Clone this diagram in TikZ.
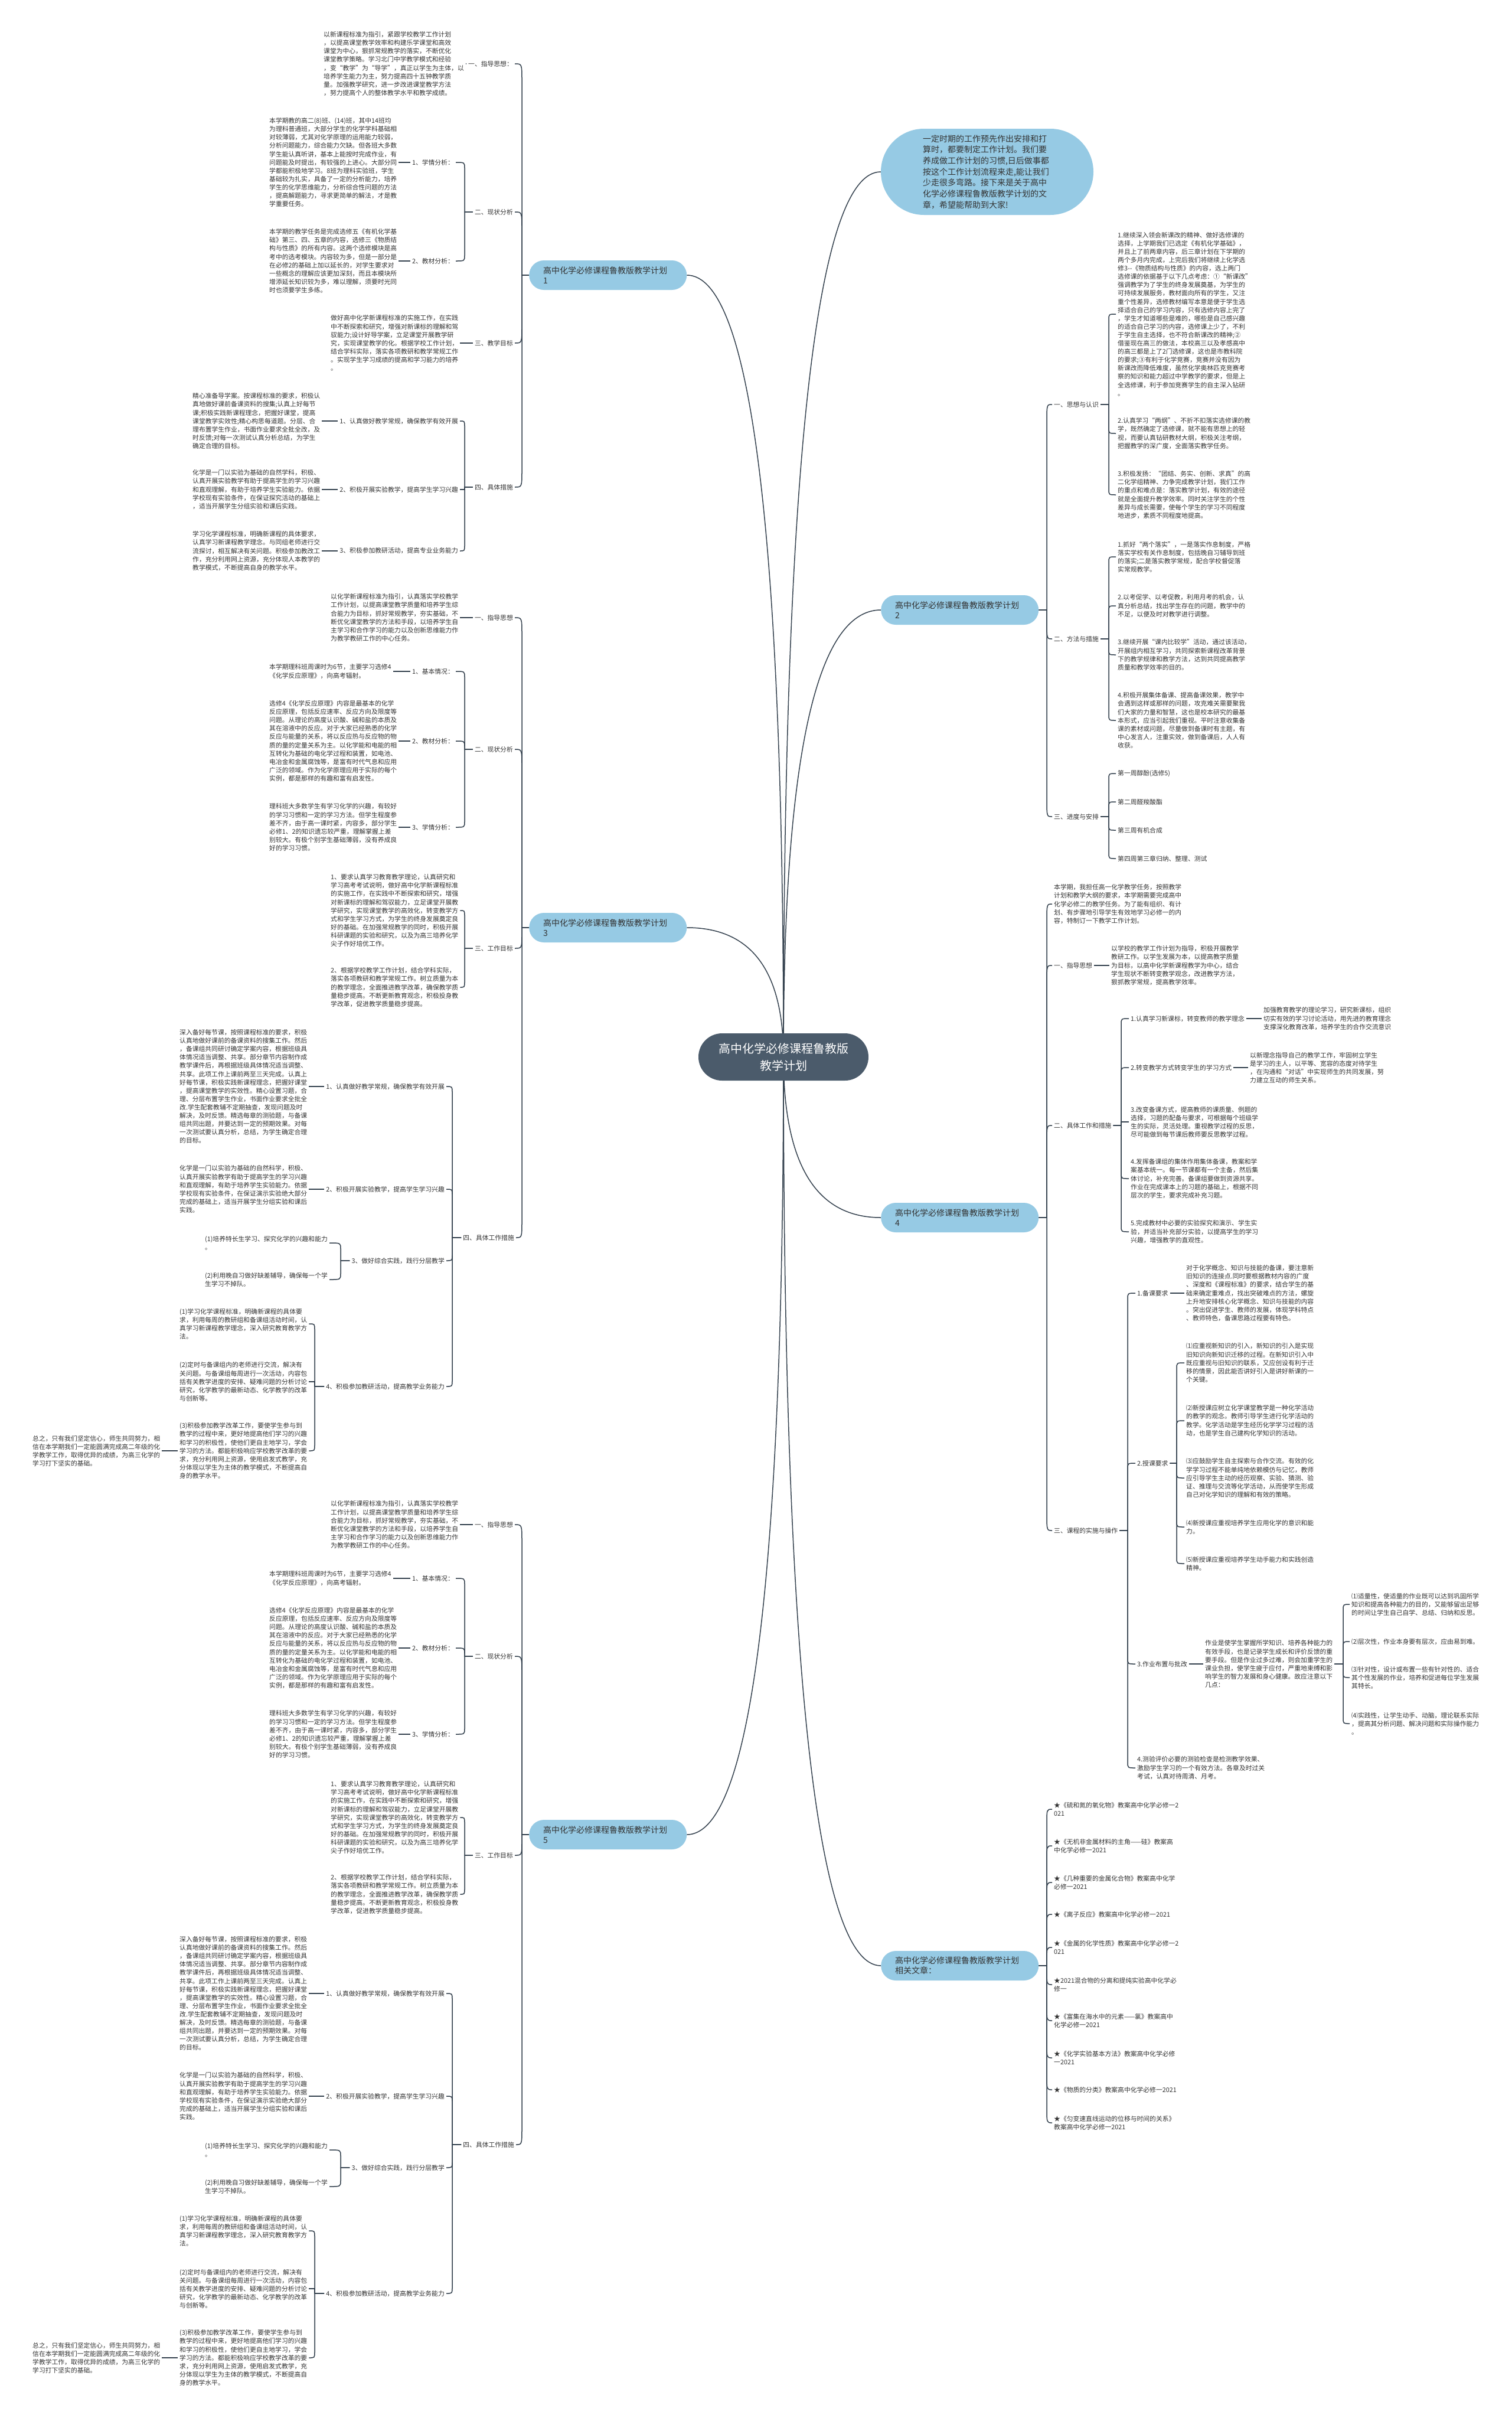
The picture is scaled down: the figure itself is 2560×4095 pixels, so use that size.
\documentclass[tikz,border=0pt]{standalone}
\usepackage{fontspec}
\setmainfont{Noto Sans CJK SC}
\usetikzlibrary{calc}
\definecolor{connc}{HTML}{34414E}
\definecolor{txtc}{HTML}{333333}
\definecolor{bluec}{HTML}{96CAE4}
\definecolor{rootc}{HTML}{4B5B6B}
\pgfdeclarelayer{lines}
\pgfsetlayers{lines,main}
\tikzset{
  conn/.style={draw=connc, line width=1.5pt},
  tx/.style={font={\fontsize{10.8}{14.1}\selectfont}, text=txtc, align=left, inner xsep=3pt, inner ysep=1pt},
  bnode/.style={fill=bluec, rounded corners=25pt, text width=219pt, align=left, inner xsep=24pt, inner ysep=0pt, minimum height=50pt, font={\fontsize{14}{17}\selectfont}, text=txtc},
  rootn/.style={fill=rootc, rounded corners=40pt, minimum width=288pt, minimum height=80pt, align=center, text=white, font={\fontsize{20}{29}\selectfont}},
  intron/.style={fill=bluec, rounded corners=73pt, text width=218pt, align=left, inner xsep=71pt, minimum height=146pt, font={\fontsize{14}{18.7}\selectfont}, text=txtc}
}
\newcommand\treeconn[4]{\draw[conn] (#1) -- (#1 -| #3) -- ($(#2 -| #3)!#4!(#1 -| #3)$) .. controls (#2 -| #3) .. (#2);}
\newcommand\elbowconn[3]{\draw[conn] (#1) -- (#1 -| #3) |- (#2);}
\newcommand\straightconn[2]{\draw[conn] (#1) -- (#1 -| #2);}
\newcommand\rootconn[1]{\draw[conn] (root.center) .. controls ($(root.center)!0.6667!(root.center |- #1)$) and ($(#1)!0.6667!(root.center |- #1)$) .. (#1);}

\newcommand\planbranchnodes[2]{%
\node[bnode,anchor=west] (#1) at (896,1571) {高中化学必修课程鲁教版教学计划\\#2};
\coordinate (#1s) at (884,0);
\node[tx,anchor=east] (#1a) at (872,1046) {一、指导思想};
\node[tx,anchor=west] (#1aL) at (557,1046) {以化学新课程标准为指引，认真落实学校教学\\
工作计划，以提高课堂教学质量和培养学生综\\
合能力为目标，抓好常规教学，夯实基础，不\\
断优化课堂教学的方法和手段，以培养学生自\\
主学习和合作学习的能力以及创新思维能力作\\
为教学教研工作的中心任务。};
\node[tx,anchor=east] (#1b) at (872,1269) {二、现状分析};
\coordinate (#1bs) at (787,0);
\node[tx,anchor=east] (#1b1) at (772,1137) {1、基本情况：};
\node[tx,anchor=west] (#1b1L) at (453,1137) {本学期理科班周课时为6节，主要学习选修4\\
《化学反应原理》，向高考辐射。};
\node[tx,anchor=east] (#1b2) at (772,1255) {2、教材分析：};
\node[tx,anchor=west] (#1b2L) at (453,1255) {选修4《化学反应原理》内容是最基本的化学\\
反应原理，包括反应速率、反应方向及限度等\\
问题。从理论的高度认识酸、碱和盐的本质及\\
其在溶液中的反应。对于大家已经熟悉的化学\\
反应与能量的关系，将以反应热与反应物的物\\
质的量的定量关系为主。以化学能和电能的相\\
互转化为基础的电化学过程和装置，如电池、\\
电冶金和金属腐蚀等，是富有时代气息和应用\\
广泛的领域。作为化学原理应用于实际的每个\\
实例，都是那样的有趣和富有启发性。};
\node[tx,anchor=east] (#1b3) at (772,1401) {3、学情分析：};
\node[tx,anchor=west] (#1b3L) at (453,1401) {理科班大多数学生有学习化学的兴趣，有较好\\
的学习习惯和一定的学习方法。但学生程度参\\
差不齐，由于高一课时紧，内容多，部分学生\\
必修1、2的知识遗忘较严重，理解掌握上差\\
别较大。有极个别学生基础薄弱，没有养成良\\
好的学习习惯。};
\node[tx,anchor=east] (#1c) at (872,1606) {三、工作目标};
\coordinate (#1cs) at (787,0);
\node[tx,anchor=west] (#1c1) at (557,1542) {1、要求认真学习教育教学理论，认真研究和\\
学习高考考试说明，做好高中化学新课程标准\\
的实施工作，在实践中不断探索和研究，增强\\
对新课标的理解和驾驭能力，立足课堂开展教\\
学研究，实现课堂教学的高效化，转变教学方\\
式和学生学习方式，为学生的终身发展奠定良\\
好的基础。在加强常规教学的同时，积极开展\\
科研课题的实验和研究，以及为高三培养化学\\
尖子作好培优工作。};
\node[tx,anchor=west] (#1c2) at (557,1672) {2、根据学校教学工作计划，结合学科实际，\\
落实各项教研和教学常规工作。树立质量为本\\
的教学理念，全面推进教学改革，确保教学质\\
量稳步提高。不断更新教育观念，积极投身教\\
学改革，促进教学质量稳步提高。};
\node[tx,anchor=east] (#1d) at (874,2096) {四、具体工作措施};
\coordinate (#1ds) at (766,0);
\node[tx,anchor=east] (#1d1) at (756,1840) {1、认真做好教学常规，确保教学有效开展};
\node[tx,anchor=west] (#1d1L) at (301,1840) {深入备好每节课，按照课程标准的要求，积极\\
认真地做好课前的备课资料的搜集工作。然后\\
，备课组共同研讨确定学案内容，根据班级具\\
体情况适当调整、共享。部分章节内容制作成\\
教学课件后，再根据班级具体情况适当调整、\\
共享。此项工作上课前两至三天完成。认真上\\
好每节课，积极实践新课程理念，把握好课堂\\
，提高课堂教学的实效性。精心设置习题，合\\
理、分层布置学生作业，书面作业要求全批全\\
改.学生配套教辅不定期抽查，发现问题及时\\
解决，及时反馈。精选每章的测验题，与备课\\
组共同出题，并要达到一定的预期效果。对每\\
一次测试要认真分析，总结，为学生确定合理\\
的目标。};
\node[tx,anchor=east] (#1d2) at (756,2014) {2、积极开展实验教学，提高学生学习兴趣};
\node[tx,anchor=west] (#1d2L) at (301,2014) {化学是一门以实验为基础的自然科学，积极、\\
认真开展实验教学有助于提高学生的学习兴趣\\
和直观理解，有助于培养学生实验能力。依据\\
学校现有实验条件，在保证演示实验绝大部分\\
完成的基础上，适当开展学生分组实验和课后\\
实践。};
\node[tx,anchor=east] (#1d3) at (756,2135) {3、做好综合实践，践行分层教学};
\coordinate (#1d3s) at (577,0);
\node[tx,anchor=west] (#1d31) at (344,2105) {(1)培养特长生学习、探究化学的兴趣和能力\\
。};
\node[tx,anchor=west] (#1d32) at (344,2167) {(2)利用晚自习做好缺差辅导，确保每一个学\\
生学习不掉队。};
\node[tx,anchor=east] (#1d4) at (756,2348) {4、积极参加教研活动，提高教学业务能力};
\coordinate (#1d4s) at (533,0);
\node[tx,anchor=west] (#1d41) at (301,2242) {(1)学习化学课程标准，明确新课程的具体要\\
求，利用每周的教研组和备课组活动时间，认\\
真学习新课程教学理念，深入研究教育教学方\\
法。};
\node[tx,anchor=west] (#1d42) at (301,2340) {(2)定时与备课组内的老师进行交流，解决有\\
关问题。与备课组每周进行一次活动，内容包\\
括有关教学进度的安排、疑难问题的分析讨论\\
研究，化学教学的最新动态、化学教学的改革\\
与创新等。};
\node[tx,anchor=west] (#1d43) at (301,2457) {(3)积极参加教学改革工作，要使学生参与到\\
教学的过程中来，更好地提高他们学习的兴趣\\
和学习的积极性，使他们更自主地学习，学会\\
学习的方法。都能积极响应学校教学改革的要\\
求，充分利用网上资源，使用启发式教学，充\\
分体现以学生为主体的教学模式，不断提高自\\
身的教学水平。};
\node[tx,anchor=west] (#1z) at (52,2457) {总之，只有我们坚定信心，师生共同努力，相\\
信在本学期我们一定能圆满完成高二年级的化\\
学教学工作，取得优异的成绩，为高三化学的\\
学习打下坚实的基础。};
}

\newcommand\planbranchconns[1]{%
\treeconn{#1.west}{#1a.east}{#1s}{30pt}
\treeconn{#1.west}{#1b.east}{#1s}{30pt}
\treeconn{#1.west}{#1c.east}{#1s}{25pt}
\treeconn{#1.west}{#1d.east}{#1s}{30pt}
\straightconn{#1a.west}{#1aL.east}
\treeconn{#1b.west}{#1b1.east}{#1bs}{10pt}
\treeconn{#1b.west}{#1b2.east}{#1bs}{10pt}
\treeconn{#1b.west}{#1b3.east}{#1bs}{10pt}
\straightconn{#1b1.west}{#1b1L.east}
\straightconn{#1b2.west}{#1b2L.east}
\straightconn{#1b3.west}{#1b3L.east}
\treeconn{#1c.west}{#1c1.east}{#1cs}{10pt}
\treeconn{#1c.west}{#1c2.east}{#1cs}{10pt}
\treeconn{#1d.west}{#1d1.east}{#1ds}{10pt}
\treeconn{#1d.west}{#1d2.east}{#1ds}{10pt}
\treeconn{#1d.west}{#1d3.east}{#1ds}{10pt}
\treeconn{#1d.west}{#1d4.east}{#1ds}{10pt}
\straightconn{#1d1.west}{#1d1L.east}
\straightconn{#1d2.west}{#1d2L.east}
\treeconn{#1d3.west}{#1d31.east}{#1d3s}{10pt}
\treeconn{#1d3.west}{#1d32.east}{#1d3s}{10pt}
\treeconn{#1d4.west}{#1d41.east}{#1d4s}{10pt}
\elbowconn{#1d4.west}{#1d42.east}{#1d4s}
\treeconn{#1d4.west}{#1d43.east}{#1d4s}{10pt}
\straightconn{#1d43.west}{#1z.east}
}

\begin{document}
\begin{tikzpicture}[x=1pt,y=-1pt]
\useasboundingbox (0,0) rectangle (2560,4095);
\begin{pgfonlayer}{lines}
\fill[white] (0,0) rectangle (2560,4095);
\end{pgfonlayer}

% root
\node[rootn] (root) at (1327,1790) {高中化学必修课程鲁教版\\教学计划};

% intro
\node[intron] (intro) at (1672,291) {一定时期的工作预先作出安排和打\\
算时，都要制定工作计划。我们要\\
养成做工作计划的习惯,日后做事都\\
按这个工作计划流程来走,能让我们\\
少走很多弯路。接下来是关于高中\\
化学必修课程鲁教版教学计划的文\\
章，希望能帮助到大家!};

% ---------- branch 1 ----------
\node[bnode,anchor=west] (b1) at (896,466) {高中化学必修课程鲁教版教学计划\\1};
\coordinate (b1s) at (884,0);
\node[tx,anchor=east] (b1a) at (872,108) {一、指导思想：};
\node[tx,anchor=west] (b1aL) at (545,108) {以新课程标准为指引，紧跟学校教学工作计划\\
，以提高课堂教学效率和构建乐学课堂和高效\\
课堂为中心，狠抓常规教学的落实，不断优化\\
课堂教学策略。学习北门中学教学模式和经验\\
，变“教学”为“导学”，真正以学生为主体，以\\
培养学生能力为主，努力提高四十五钟教学质\\
量。加强教学研究，进一步改进课堂教学方法\\
，努力提高个人的整体教学水平和教学成绩。};
\node[tx,anchor=east] (b1b) at (872,359) {二、现状分析};
\coordinate (b1bs) at (787,0);
\node[tx,anchor=east] (b1b1) at (772,275) {1、学情分析：};
\node[tx,anchor=west] (b1b1L) at (453,275) {本学期教的高二(8)班、(14)班，其中14班均\\
为理科普通班，大部分学生的化学学科基础相\\
对较薄弱，尤其对化学原理的运用能力较弱，\\
分析问题能力，综合能力欠缺。但各班大多数\\
学生能认真听讲，基本上能按时完成作业，有\\
问题能及时提出，有较强的上进心。大部分同\\
学都能积极地学习。8班为理科实验班，学生\\
基础较为扎实，具备了一定的分析能力，培养\\
学生的化学思维能力，分析综合性问题的方法\\
，提高解题能力，寻求更简单的解法，才是教\\
学重要任务。};
\node[tx,anchor=east] (b1b2) at (772,442) {2、教材分析：};
\node[tx,anchor=west] (b1b2L) at (453,442) {本学期的教学任务是完成选修五《有机化学基\\
础》第三、四、五章的内容，选修三《物质结\\
构与性质》的所有内容。这两个选修模块是高\\
考中的选考模块。内容较为多，但是一部分是\\
在必修2的基础上加以延长的，对学生要求对\\
一些概念的理解应该更加深刻，而且本模块所\\
增添延长知识较为多，难以理解，须要时光同\\
时也须要学生多练。};
\node[tx,anchor=east] (b1c) at (872,581) {三、教学目标};
\node[tx,anchor=west] (b1cL) at (557,581) {做好高中化学新课程标准的实施工作，在实践\\
中不断探索和研究，增强对新课标的理解和驾\\
驭能力;设计好导学案，立足课堂开展教学研\\
究，实现课堂教学的化。根据学校工作计划，\\
结合学科实际，落实各项教研和教学常规工作\\
。实现学生学习成绩的提高和学习能力的培养\\
。};
\node[tx,anchor=east] (b1d) at (872,825) {四、具体措施};
\coordinate (b1ds) at (787,0);
\node[tx,anchor=east] (b1d1) at (779,713) {1、认真做好教学常规，确保教学有效开展};
\node[tx,anchor=west] (b1d1L) at (323,713) {精心准备导学案。按课程标准的要求，积极认\\
真地做好课前备课资料的搜集;认真上好每节\\
课;积极实践新课程理念，把握好课堂，提高\\
课堂教学实效性;精心构思每道题。分层、合\\
理布置学生作业，书面作业要求全批全改，及\\
时反馈;对每一次测试认真分析总结，为学生\\
确定合理的目标。};
\node[tx,anchor=east] (b1d2) at (779,829) {2、积极开展实验教学，提高学生学习兴趣};
\node[tx,anchor=west] (b1d2L) at (323,829) {化学是一门以实验为基础的自然学科，积极、\\
认真开展实验教学有助于提高学生的学习兴趣\\
和直观理解，有助于培养学生实验能力。依据\\
学校现有实验条件，在保证探究活动的基础上\\
，适当开展学生分组实验和课后实践。};
\node[tx,anchor=east] (b1d3) at (779,933) {3、积极参加教研活动，提高专业业务能力};
\node[tx,anchor=west] (b1d3L) at (323,933) {学习化学课程标准，明确新课程的具体要求，\\
认真学习新课程教学理念。与同组老师进行交\\
流探讨，相互解决有关问题。积极参加教改工\\
作，充分利用网上资源，充分体现人本教学的\\
教学模式，不断提高自身的教学水平。};

% ---------- branches 3 and 5 ----------
\begin{scope}
\planbranchnodes{b3}{3}
\end{scope}
\begin{scope}[yshift=-1536pt]
\planbranchnodes{b5}{5}
\end{scope}

% ---------- branch 2 ----------
\node[bnode,anchor=west] (b2) at (1492,1033) {高中化学必修课程鲁教版教学计划\\2};
\coordinate (b2s) at (1773,0);
\node[tx,anchor=west] (b2a) at (1782,685) {一、思想与认识};
\coordinate (b2as) at (1878,0);
\node[tx,anchor=west] (b2a1) at (1890,532) {1.继续深入领会新课改的精神、做好选修课的\\
选择，上学期我们已选定《有机化学基础》，\\
并且上了前两章内容，后三章计划在下学期的\\
两个多月内完成，上完后我们将继续上化学选\\
修3-{}-《物质结构与性质》的内容，选上两门\\
选修课的依据基于以下几点考虑：①“新课改”\\
强调教学为了学生的终身发展奠基，为学生的\\
可持续发展服务，教材面向所有的学生，又注\\
重个性差异，选修教材编写本意是便于学生选\\
择适合自己的学习内容，只有选修内容上完了\\
，学生才知道哪些是难的，哪些是自己感兴趣\\
的适合自己学习的内容，选修课上少了，不利\\
于学生自主选择，也不符合新课改的精神;②\\
借鉴现在高三的做法，本校高三以及孝感高中\\
的高三都是上了2门选修课，这也是市教科院\\
的要求;③有利于化学竞赛，竞赛并没有因为\\
新课改而降低难度，虽然化学奥林匹克竞赛考\\
察的知识和能力超过中学教学的要求，但是上\\
全选修课，利于参加竞赛学生的自主深入钻研\\
。};
\node[tx,anchor=west] (b2a2) at (1890,734) {2.认真学习“两纲”、不折不扣落实选修课的教\\
学，既然确定了选修课，就不能有思想上的轻\\
视，而要认真钻研教材大纲，积极关注考纲，\\
把握教学的深广度，全面落实教学任务。};
\node[tx,anchor=west] (b2a3) at (1890,838) {3.积极发扬：“团结、务实、创新、求真”的高\\
二化学组精神、力争完成教学计划，我们工作\\
的重点和难点是：落实教学计划，有效的途径\\
就是全面提升教学效率。同时关注学生的个性\\
差异与成长需要，使每个学生的学习不同程度\\
地进步，素质不同程度地提高。};
\node[tx,anchor=west] (b2b) at (1782,1082) {二、方法与措施};
\coordinate (b2bs) at (1878,0);
\node[tx,anchor=west] (b2b1) at (1890,943) {1.抓好“两个落实”，一是落实作息制度，严格\\
落实学校有关作息制度，包括晚自习辅导到班\\
的落实;二是落实教学常规，配合学校督促落\\
实常规教学。};
\node[tx,anchor=west] (b2b2) at (1890,1026) {2.以考促学、以考促教，利用月考的机会，认\\
真分析总结，找出学生存在的问题，教学中的\\
不足，以便及时对教学进行调整。};
\node[tx,anchor=west] (b2b3) at (1890,1109) {3.继续开展“课内比较学”活动，通过该活动，\\
开展组内相互学习，共同探索新课程改革背景\\
下的教学规律和教学方法，达到共同提高教学\\
质量和教学效率的目的。};
\node[tx,anchor=west] (b2b4) at (1890,1220) {4.积极开展集体备课、提高备课效果，教学中\\
会遇到这样或那样的问题，攻克难关需要聚我\\
们大家的力量和智慧，这也是校本研究的最基\\
本形式，应当引起我们重视。平时注意收集备\\
课的素材或问题，尽量做到备课时有主题，有\\
中心发言人，注重实效，做到备课后，人人有\\
收获。};
\node[tx,anchor=west] (b2c) at (1782,1383) {三、进度与安排};
\coordinate (b2cs) at (1878,0);
\node[tx,anchor=west] (b2c1) at (1890,1310) {第一周醇酚(选修5)};
\node[tx,anchor=west] (b2c2) at (1890,1358) {第二周醛羧酸酯};
\node[tx,anchor=west] (b2c3) at (1890,1406) {第三周有机合成};
\node[tx,anchor=west] (b2c4) at (1890,1454) {第四周第三章归纳、整理、测试};

% ---------- branch 4 ----------
\node[bnode,anchor=west] (b4) at (1492,2062) {高中化学必修课程鲁教版教学计划\\4};
\coordinate (b4s) at (1773,0);
\node[tx,anchor=west] (b4i) at (1782,1531) {本学期，我担任高一化学教学任务，按照教学\\
计划和教学大纲的要求，本学期需要完成高中\\
化学必修二的教学任务。为了能有组织、有计\\
划、有步骤地引导学生有效地学习必修一的内\\
容，特制订一下教学工作计划。};
\node[tx,anchor=west] (b4a) at (1782,1635) {一、指导思想};
\node[tx,anchor=west] (b4aL) at (1879,1635) {以学校的教学工作计划为指导，积极开展教学\\
教研工作。以学生发展为本，以提高教学质量\\
为目标，以高中化学新课程教学为中心，结合\\
学生现状不断转变教学观念，改进教学方法，\\
狠抓教学常规，提高教学效率。};
\node[tx,anchor=west] (b4b) at (1782,1906) {二、具体工作和措施};
\coordinate (b4bs) at (1899,0);
\node[tx,anchor=west] (b4b1) at (1912,1725) {1.认真学习新课标，转变教师的教学理念};
\node[tx,anchor=west] (b4b1L) at (2137,1725) {加强教育教学的理论学习，研究新课标，组织\\
切实有效的学习讨论活动，用先进的教育理念\\
支撑深化教育改革，培养学生的合作交流意识};
\node[tx,anchor=west] (b4b2) at (1912,1808) {2.转变教学方式转变学生的学习方式};
\node[tx,anchor=west] (b4b2L) at (2114,1808) {以新理念指导自己的教学工作，牢固树立学生\\
是学习的主人，以平等、宽容的态度对待学生\\
，在沟通和“对话”中实现师生的共同发展，努\\
力建立互动的师生关系。};
\node[tx,anchor=west] (b4b3) at (1912,1900) {3.改变备课方式，提高教师的课质量、例题的\\
选择，习题的配备与要求，可根据每个班级学\\
生的实际，灵活处理。重视教学过程的反思，\\
尽可能做到每节课后教师要反思教学过程。};
\node[tx,anchor=west] (b4b4) at (1912,1996) {4.发挥备课组的集体作用集体备课，教案和学\\
案基本统一。每一节课都有一个主备，然后集\\
体讨论，补充完善。备课组要做到资源共享。\\
作业在完成课本上的习题的基础上，根据不同\\
层次的学生，要求完成补充习题。};
\node[tx,anchor=west] (b4b5) at (1912,2086) {5.完成教材中必要的实验探究和演示、学生实\\
验，并适当补充部分实验，以提高学生的学习\\
兴趣，增强教学的直观性。};
\node[tx,anchor=west] (b4c) at (1782,2592) {三、课程的实施与操作};
\coordinate (b4cs) at (1910,0);
\node[tx,anchor=west] (b4c1) at (1923,2190) {1.备课要求};
\node[tx,anchor=west] (b4c1L) at (2006,2190) {对于化学概念、知识与技能的备课，要注意新\\
旧知识的连接点.同时要根据教材内容的广度\\
、深度和《课程标准》的要求，结合学生的基\\
础来确定重难点，找出突破难点的方法，螺旋\\
上升地安排核心化学概念、知识与技能的内容\\
。突出促进学生、教师的发展，体现学科特点\\
、教师特色，备课思路过程要有特色。};
\node[tx,anchor=west] (b4c2) at (1923,2478) {2.授课要求};
\coordinate (b4c2s) at (1993,0);
\node[tx,anchor=west] (b4c21) at (2006,2308) {⑴应重视新知识的引入，新知识的引入是实现\\
旧知识向新知识迁移的过程。在新知识引入中\\
既应重视与旧知识的联系，又应创设有利于迁\\
移的情景，因此能否讲好引入是讲好新课的一\\
个关键。};
\node[tx,anchor=west] (b4c22) at (2006,2406) {⑵新授课应树立化学课堂教学是一种化学活动\\
的教学的观念。教师引导学生进行化学活动的\\
教学。化学活动是学生经历化学学习过程的活\\
动，也是学生自己建构化学知识的活动。};
\node[tx,anchor=west] (b4c23) at (2006,2503) {⑶应鼓励学生自主探索与合作交流。有效的化\\
学学习过程不能单纯地依赖模仿与记忆，教师\\
应引导学生主动的经历观察、实验、猜测、验\\
证、推理与交流等化学活动，从而使学生形成\\
自己对化学知识的理解和有效的策略。};
\node[tx,anchor=west] (b4c24) at (2006,2586) {⑷新授课应重视培养学生应用化学的意识和能\\
力。};
\node[tx,anchor=west] (b4c25) at (2006,2648) {⑸新授课应重视培养学生动手能力和实践创造\\
精神。};
\node[tx,anchor=west] (b4c3) at (1923,2818) {3.作业布置与批改};
\node[tx,anchor=west] (b4c3L) at (2038,2818) {作业是使学生掌握所学知识、培养各种能力的\\
有效手段，也是记录学生成长和评价反馈的重\\
要手段。但是作业过多过难，则会加重学生的\\
课业负担，使学生疲于应付，严重地束缚和影\\
响学生的智力发展和身心健康。故应注意以下\\
几点：};
\coordinate (b4c3s) at (2275,0);
\node[tx,anchor=west] (b4c31) at (2286,2717) {⑴适量性，使适量的作业既可以达到巩固所学\\
知识和提高各种能力的目的，又能够留出足够\\
的时间让学生自己自学、总结、归纳和反思。};
\node[tx,anchor=west] (b4c32) at (2286,2780) {⑵层次性，作业本身要有层次，应由易到难。};
\node[tx,anchor=west] (b4c33) at (2286,2841) {⑶针对性，设计或布置一些有针对性的、适合\\
其个性发展的作业，培养和促进每位学生发展\\
其特长。};
\node[tx,anchor=west] (b4c34) at (2286,2919) {⑷实践性，让学生动手、动脑，理论联系实际\\
，提高其分析问题、解决问题和实际操作能力\\
。};
\node[tx,anchor=west] (b4c4) at (1923,2994) {4.测验评价必要的测验检查是检测教学效果、\\
激励学生学习的一个有效方法。各章及时过关\\
考试，认真对待周清、月考。};

% ---------- branch 6: related ----------
\node[bnode,anchor=west] (b6) at (1492,3329) {高中化学必修课程鲁教版教学计划\\相关文章：};
\coordinate (b6s) at (1773,0);
\node[tx,anchor=west] (r1) at (1782,3064) {★《硫和氮的氧化物》教案高中化学必修一2\\021};
\node[tx,anchor=west] (r2) at (1782,3126) {★《无机非金属材料的主角——硅》教案高\\中化学必修一2021};
\node[tx,anchor=west] (r3) at (1782,3188) {★《几种重要的金属化合物》教案高中化学\\必修一2021};
\node[tx,anchor=west] (r4) at (1782,3242) {★《离子反应》教案高中化学必修一2021};
\node[tx,anchor=west] (r5) at (1782,3298) {★《金属的化学性质》教案高中化学必修一2\\021};
\node[tx,anchor=west] (r6) at (1782,3361) {★2021混合物的分离和提纯实验高中化学必\\修一};
\node[tx,anchor=west] (r7) at (1782,3422) {★《富集在海水中的元素——氯》教案高中\\化学必修一2021};
\node[tx,anchor=west] (r8) at (1782,3485) {★《化学实验基本方法》教案高中化学必修\\一2021};
\node[tx,anchor=west] (r9) at (1782,3539) {★《物质的分类》教案高中化学必修一2021};
\node[tx,anchor=west] (r10) at (1782,3595) {★《匀变速直线运动的位移与时间的关系》\\教案高中化学必修一2021};

% ---------- connectors ----------
\begin{pgfonlayer}{lines}
\rootconn{b1.east}
\rootconn{b3.east}
\rootconn{b5.east}
\rootconn{intro.west}
\rootconn{b2.west}
\rootconn{b4.west}
\rootconn{b6.west}

% branch 1
\treeconn{b1.west}{b1a.east}{b1s}{30pt}
\treeconn{b1.west}{b1b.east}{b1s}{30pt}
\treeconn{b1.west}{b1c.east}{b1s}{30pt}
\treeconn{b1.west}{b1d.east}{b1s}{30pt}
\straightconn{b1a.west}{b1aL.east}
\treeconn{b1b.west}{b1b1.east}{b1bs}{10pt}
\treeconn{b1b.west}{b1b2.east}{b1bs}{10pt}
\straightconn{b1b1.west}{b1b1L.east}
\straightconn{b1b2.west}{b1b2L.east}
\straightconn{b1c.west}{b1cL.east}
\treeconn{b1d.west}{b1d1.east}{b1ds}{10pt}
\elbowconn{b1d.west}{b1d2.east}{b1ds}
\treeconn{b1d.west}{b1d3.east}{b1ds}{10pt}
\straightconn{b1d1.west}{b1d1L.east}
\straightconn{b1d2.west}{b1d2L.east}
\straightconn{b1d3.west}{b1d3L.east}

% branches 3, 5
\planbranchconns{b3}
\planbranchconns{b5}

% branch 2
\treeconn{b2.east}{b2a.west}{b2s}{30pt}
\treeconn{b2.east}{b2b.west}{b2s}{30pt}
\treeconn{b2.east}{b2c.west}{b2s}{30pt}
\treeconn{b2a.east}{b2a1.west}{b2as}{10pt}
\treeconn{b2a.east}{b2a2.west}{b2as}{10pt}
\treeconn{b2a.east}{b2a3.west}{b2as}{10pt}
\treeconn{b2b.east}{b2b1.west}{b2bs}{10pt}
\treeconn{b2b.east}{b2b2.west}{b2bs}{10pt}
\treeconn{b2b.east}{b2b3.west}{b2bs}{10pt}
\treeconn{b2b.east}{b2b4.west}{b2bs}{10pt}
\treeconn{b2c.east}{b2c1.west}{b2cs}{10pt}
\treeconn{b2c.east}{b2c2.west}{b2cs}{10pt}
\treeconn{b2c.east}{b2c3.west}{b2cs}{10pt}
\treeconn{b2c.east}{b2c4.west}{b2cs}{10pt}

% branch 4
\treeconn{b4.east}{b4i.west}{b4s}{30pt}
\treeconn{b4.east}{b4a.west}{b4s}{30pt}
\treeconn{b4.east}{b4b.west}{b4s}{30pt}
\treeconn{b4.east}{b4c.west}{b4s}{30pt}
\straightconn{b4a.east}{b4aL.west}
\treeconn{b4b.east}{b4b1.west}{b4bs}{10pt}
\treeconn{b4b.east}{b4b2.west}{b4bs}{10pt}
\elbowconn{b4b.east}{b4b3.west}{b4bs}
\treeconn{b4b.east}{b4b4.west}{b4bs}{10pt}
\treeconn{b4b.east}{b4b5.west}{b4bs}{10pt}
\straightconn{b4b1.east}{b4b1L.west}
\straightconn{b4b2.east}{b4b2L.west}
\treeconn{b4c.east}{b4c1.west}{b4cs}{10pt}
\treeconn{b4c.east}{b4c2.west}{b4cs}{10pt}
\treeconn{b4c.east}{b4c3.west}{b4cs}{10pt}
\treeconn{b4c.east}{b4c4.west}{b4cs}{10pt}
\straightconn{b4c1.east}{b4c1L.west}
\treeconn{b4c2.east}{b4c21.west}{b4c2s}{10pt}
\treeconn{b4c2.east}{b4c22.west}{b4c2s}{10pt}
\treeconn{b4c2.east}{b4c23.west}{b4c2s}{10pt}
\treeconn{b4c2.east}{b4c24.west}{b4c2s}{10pt}
\treeconn{b4c2.east}{b4c25.west}{b4c2s}{10pt}
\straightconn{b4c3.east}{b4c3L.west}
\treeconn{b4c3L.east}{b4c31.west}{b4c3s}{10pt}
\treeconn{b4c3L.east}{b4c32.west}{b4c3s}{10pt}
\treeconn{b4c3L.east}{b4c33.west}{b4c3s}{10pt}
\treeconn{b4c3L.east}{b4c34.west}{b4c3s}{10pt}

% branch 6
\foreach \r in {r1,r2,r3,r4,r5,r6,r7,r8,r9,r10}{\treeconn{b6.east}{\r.west}{b6s}{24pt}}
\end{pgfonlayer}
\end{tikzpicture}
\end{document}
